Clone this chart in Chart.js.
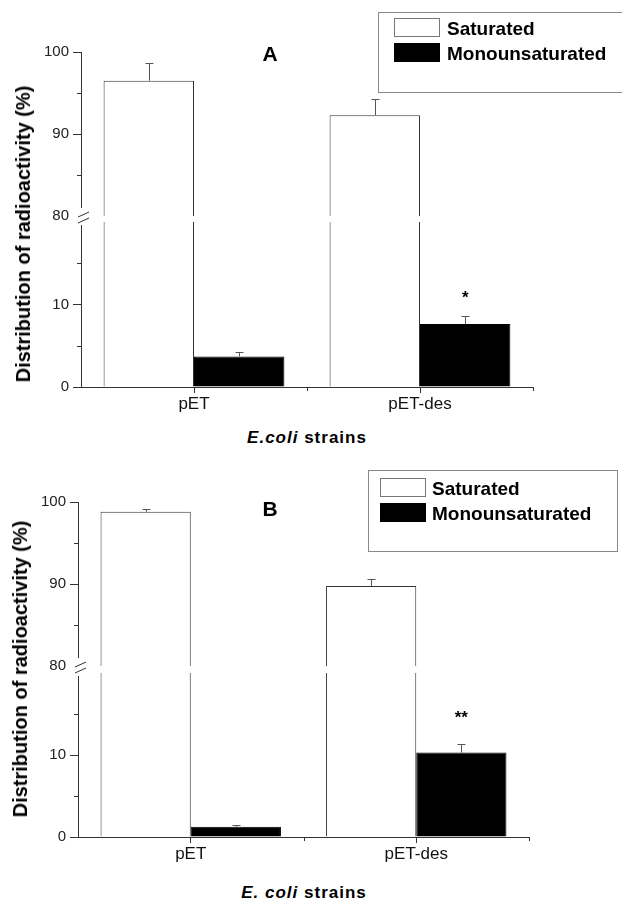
<!DOCTYPE html>
<html>
<head>
<meta charset="utf-8">
<script src="https://cdn.jsdelivr.net/npm/chart.js@4.4.1/dist/chart.umd.min.js"></script>
<style>
  body { margin: 0; background: #fff; }
  #fig { position: relative; width: 622px; height: 900px; overflow: hidden;
         font-family: 'Liberation Sans', Arial, sans-serif; color: #000; }
  #fig canvas { position: absolute; left: 0; }
  .txt { position: absolute; white-space: nowrap; }
  .ylab { font-weight: bold; font-size: 20px; line-height: 20px; transform: translate(-50%, -50%) rotate(-90deg); }
  .xlab { font-weight: bold; font-size: 17px; line-height: 17px; letter-spacing: 1px; transform: translateX(-50%); }
  .ptitle { font-weight: bold; font-size: 21px; line-height: 21px; transform: translateX(-50%); }
  .legend { position: absolute; border: 1px solid #888; background: #fff; }
  .legend .sw { position: absolute; box-sizing: border-box; border: 1px solid #777; }
  .legend .lt { position: absolute; font-weight: bold; font-size: 19px; line-height: 19px; white-space: nowrap; }
</style>
</head>
<body>
<div id="fig"></div>
<script>
// DATOS
const categories = ['pET', 'pET-des'];
const seriesNames = ['Saturated', 'Monounsaturated'];
const seriesColors = ['#ffffff', '#000000'];
const upperRange = [80, 100];
const lowerRange = [0, 20];
const yStep = 10;
const yMinorStep = 5;

// painel A
const satA = [96.5, 92.3];
const satErrA = [2.1, 2.0];
const monoA = [3.7, 7.65];
const monoErrA = [0.6, 0.95];
const starsA = ['', '*'];

// painel B
const satB = [98.8, 89.75];
const satErrB = [0.3, 0.9];
const monoB = [1.26, 10.3];
const monoErrB = [0.17, 1.05];
const starsB = ['', '**'];

const FONT = "'Liberation Sans', Arial, sans-serif";
Chart.defaults.font.family = FONT;

const fig = document.getElementById('fig');

// barras de erro, asteriscos, ticks menores e quebra do eixo
const extras = {
  id: 'extras',
  afterDatasetsDraw(chart, args, opts) {
    const ctx = chart.ctx;
    const ys = chart.scales.y;
    ctx.save();
    chart.data.datasets.forEach((ds, di) => {
      const meta = chart.getDatasetMeta(di);
      meta.data.forEach((bar, i) => {
        const v = ds.data[i];
        if (v < ys.min || v > ys.max) return;
        const px = Math.round(bar.x) + 0.5;
        const yTop = Math.round(ys.getPixelForValue(v + ds.errors[i])) + 0.5;
        ctx.strokeStyle = '#555';
        ctx.lineWidth = 1;
        ctx.beginPath();
        ctx.moveTo(px, bar.y);
        ctx.lineTo(px, yTop);
        ctx.moveTo(px - 4, yTop);
        ctx.lineTo(px + 4, yTop);
        ctx.stroke();
        if (ds.stars && ds.stars[i]) {
          ctx.fillStyle = '#000';
          ctx.font = 'bold 17px ' + FONT;
          ctx.textAlign = 'center';
          ctx.textBaseline = 'alphabetic';
          ctx.fillText(ds.stars[i], bar.x, yTop - opts.starGap);
        }
      });
    });
    ctx.restore();
  },
  afterDraw(chart, args, opts) {
    const ctx = chart.ctx;
    const ys = chart.scales.y;
    const a = chart.chartArea;
    ctx.save();
    ctx.strokeStyle = '#333';
    ctx.lineWidth = 1;
    ctx.beginPath();
    for (let v = ys.min + yMinorStep; v < ys.max; v += yMinorStep) {
      if (v % yStep === 0) continue;
      const py = Math.round(ys.getPixelForValue(v)) + 0.5;
      ctx.moveTo(a.left - 4, py);
      ctx.lineTo(a.left, py);
    }
    if (opts.part === 'lower') {
      const xs = chart.scales.x;
      for (let i = 0; i < categories.length; i++) {
        const px = Math.round(xs.getPixelForValue(i + 0.5)) + 0.5;
        ctx.moveTo(px, a.bottom);
        ctx.lineTo(px, a.bottom + 4);
      }
    }
    ctx.stroke();

    // quebra do eixo
    if (opts.part === 'upper') {
      ctx.clearRect(a.left - 10, a.bottom - 8, 16, 10);
      ctx.beginPath();
      ctx.moveTo(a.left - 3, a.bottom + 1);
      ctx.lineTo(a.left + 8, a.bottom - 4);
      ctx.moveTo(a.left - 3, a.bottom + 7);
      ctx.lineTo(a.left + 8, a.bottom + 2);
      ctx.stroke();
    } else {
      ctx.clearRect(a.left - 3, a.top - 2, 6, 5);
    }
    ctx.restore();
  }
};

const makeChart = (p, part) => {
  const isUpper = part === 'upper';
  const range = isUpper ? upperRange : lowerRange;
  const padTop = isUpper ? 30 : 20;
  const padBottom = isUpper ? 20 : 0;
  const xHeight = 40;
  const areaTop = isUpper ? p.upperTop : p.lowerTop;
  const areaBottom = isUpper ? p.upperBottom : p.lowerBottom;
  const top = areaTop - padTop;
  const height = areaBottom - areaTop + padTop + (isUpper ? padBottom : xHeight);

  const canvas = document.createElement('canvas');
  canvas.width = 622;
  canvas.height = height;
  canvas.style.width = '622px';
  canvas.style.height = height + 'px';
  canvas.style.top = top + 'px';
  fig.appendChild(canvas);

  return new Chart(canvas, {
    type: 'bar',
    data: {
      labels: categories,
      datasets: [
        { label: seriesNames[0], data: p.sat, errors: p.satErr,
          backgroundColor: seriesColors[0], borderColor: '#333', borderWidth: 1 },
        { label: seriesNames[1], data: p.mono, errors: p.monoErr, stars: p.stars,
          backgroundColor: seriesColors[1], borderColor: '#000', borderWidth: 1 }
      ]
    },
    options: {
      responsive: false,
      animation: false,
      devicePixelRatio: 1,
      layout: { padding: { top: padTop, bottom: padBottom, left: 0, right: 622 - p.right } },
      datasets: { bar: { categoryPercentage: 0.8, barPercentage: 1.0, clip: 0 } },
      plugins: {
        legend: { display: false },
        tooltip: { enabled: false },
        extras: { part: part, starGap: p.starGap }
      },
      scales: {
        x: {
          display: !isUpper,
          ticks: { font: { size: 17 }, color: '#111', padding: 1 },
          grid: { drawOnChartArea: false, offset: false, tickLength: 6, tickColor: '#333' },
          border: { color: '#333', width: 1 },
          afterFit: (s) => { s.height = isUpper ? 0 : xHeight; }
        },
        y: {
          min: range[0],
          max: range[1],
          ticks: { stepSize: yStep, font: { size: 15 }, color: '#222', padding: 4 },
          grid: { drawOnChartArea: false, tickLength: 8, tickColor: '#333' },
          border: { color: '#333', width: 1 },
          afterBuildTicks: (s) => {
            s.ticks = s.ticks.filter(t => t.value % yStep === 0 && (isUpper || t.value < range[1]));
          },
          afterFit: (s) => { s.width = p.left; }
        }
      }
    },
    plugins: [extras]
  });
};

const addText = (cls, html, x, y) => {
  const d = document.createElement('div');
  d.className = 'txt ' + cls;
  d.innerHTML = html;
  d.style.left = x + 'px';
  d.style.top = y + 'px';
  fig.appendChild(d);
};

const addLegend = (lg) => {
  const box = document.createElement('div');
  box.className = 'legend';
  box.style.left = lg.x + 'px';
  box.style.top = lg.y + 'px';
  box.style.width = lg.w + 'px';
  box.style.height = lg.h + 'px';
  seriesNames.forEach((name, i) => {
    const sw = document.createElement('div');
    sw.className = 'sw';
    sw.style.left = lg.swX + 'px';
    sw.style.top = (lg.rowY + i * 25) + 'px';
    sw.style.width = '46px';
    sw.style.height = '19px';
    sw.style.background = seriesColors[i];
    if (i === 1) sw.style.borderColor = '#000';
    box.appendChild(sw);
    const t = document.createElement('div');
    t.className = 'lt';
    t.textContent = name;
    t.style.left = lg.txtX + 'px';
    t.style.top = (lg.rowY + 1 + i * 25) + 'px';
    box.appendChild(t);
  });
  fig.appendChild(box);
};

const panels = [
  { title: 'A', sat: satA, satErr: satErrA, mono: monoA, monoErr: monoErrA, stars: starsA,
    left: 81, right: 533, upperTop: 52, upperBottom: 216, lowerTop: 222, lowerBottom: 387,
    starGap: 14, titleY: 43, ylabX: 22.5, ylabY: 234,
    xTitle: '<i>E.coli</i> strains', xTitleX: 307, xTitleY: 429,
    legend: { x: 378, y: 12, w: 260, h: 79, swX: 15, txtX: 68, rowY: 5 } },
  { title: 'B', sat: satB, satErr: satErrB, mono: monoB, monoErr: monoErrB, stars: starsB,
    left: 78, right: 529, upperTop: 502, upperBottom: 666, lowerTop: 673, lowerBottom: 837,
    starGap: 22, titleY: 498, ylabX: 19.5, ylabY: 669,
    xTitle: '<i>E. coli</i> strains', xTitleX: 304, xTitleY: 884,
    legend: { x: 368, y: 470, w: 248, h: 80, swX: 11, txtX: 63, rowY: 7 } }
];

panels.forEach((p) => {
  makeChart(p, 'upper');
  makeChart(p, 'lower');
  addText('ptitle', p.title, 270, p.titleY);
  addText('ylab', 'Distribution of radioactivity (%)', p.ylabX, p.ylabY);
  addText('xlab', p.xTitle, p.xTitleX, p.xTitleY);
  addLegend(p.legend);
});
</script>
</body>
</html>
